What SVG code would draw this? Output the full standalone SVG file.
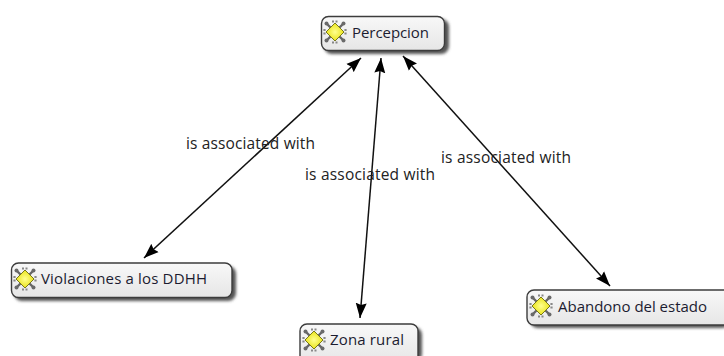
<svg xmlns="http://www.w3.org/2000/svg" width="724" height="356" viewBox="0 0 724 356">
<defs>
<linearGradient id="bg" x1="0" y1="0" x2="0" y2="1"><stop offset="0" stop-color="#f8f8f8"/><stop offset="1" stop-color="#e6e6e6"/></linearGradient>
<radialGradient id="dia" cx="0.5" cy="0.5" r="0.6"><stop offset="0" stop-color="#ffff90"/><stop offset="1" stop-color="#e6de00"/></radialGradient>
<filter id="sh" x="-10%" y="-20%" width="125%" height="160%"><feGaussianBlur stdDeviation="1.6"/></filter>
<marker id="a" markerUnits="userSpaceOnUse" markerWidth="16" markerHeight="12" refX="15" refY="6" orient="auto-start-reverse"><path d="M0 0.500L15 6L0 11.500L2 6Z" fill="#000"/></marker>
<g id="ic">
<path d="M-9 -9L9 9M-9 9L9 -9" stroke="#666" stroke-width="2.4"/>
<path d="M-3 -10.500H3M-3 10.500H3M-10.500 -3V3M10.500 -3V3" stroke="#888" stroke-width="2.200" stroke-dasharray="2 1.500" fill="none"/>
<g fill="#6a6a6a"><circle cx="-8.500" cy="-8.500" r="2"/><circle cx="8.500" cy="-8.500" r="2"/><circle cx="-8.500" cy="8.500" r="2"/><circle cx="8.500" cy="8.500" r="2"/></g>
<path d="M0 -9L9 0L0 9L-9 0Z" fill="url(#dia)" stroke="#77771a" stroke-width="1"/>
</g>
</defs>
<style>
.b{fill:url(#bg);stroke:#3c3c3c;stroke-width:1.4}
.s{fill:#555;filter:url(#sh)}
.t{font-family:"Open Sans","Noto Sans","Liberation Sans",sans-serif;font-size:15px;fill:#1c1c30}
.l{font-family:"Open Sans","Noto Sans","Liberation Sans",sans-serif;font-size:15.500px;fill:#222}
.c{fill:none;stroke:#111;stroke-width:1.500;marker-start:url(#a);marker-end:url(#a)}
</style>
<rect width="724" height="356" fill="#fff"/>
<g id="connectors">
<path class="c" d="M361 58L144 258"/>
<path class="c" d="M381 58L360 318"/>
<path class="c" d="M403 56L610 286"/>
</g>
<g id="labels">
<text class="l" x="186" y="149" textLength="129">is associated with</text>
<text class="l" x="305" y="180" textLength="130">is associated with</text>
<text class="l" x="441" y="163" textLength="130">is associated with</text>
</g>
<g id="n1">
<rect class="s" x="324" y="19" width="125" height="35" rx="8"/>
<rect class="b" x="321.500" y="16.500" width="123" height="34" rx="7"/>
<use href="#ic" x="335" y="32"/>
<text class="t" x="352" y="38" textLength="77">Percepcion</text>
</g>
<g id="n2">
<rect class="s" x="14" y="266" width="222" height="35" rx="8"/>
<rect class="b" x="11.500" y="263" width="220.500" height="34.500" rx="7"/>
<use href="#ic" x="25" y="279"/>
<text class="t" x="41" y="284" textLength="166">Violaciones a los DDHH</text>
</g>
<g id="n3">
<rect class="s" x="303" y="327" width="119" height="35" rx="8"/>
<rect class="b" x="300" y="324" width="118" height="40" rx="7"/>
<use href="#ic" x="314" y="340"/>
<text class="t" x="330" y="345" textLength="74">Zona rural</text>
</g>
<g id="n4">
<rect class="s" x="530" y="293" width="200" height="35" rx="8"/>
<rect class="b" x="527" y="290" width="205" height="35" rx="7"/>
<use href="#ic" x="541" y="306"/>
<text class="t" x="558" y="312" textLength="149">Abandono del estado</text>
</g>
</svg>
